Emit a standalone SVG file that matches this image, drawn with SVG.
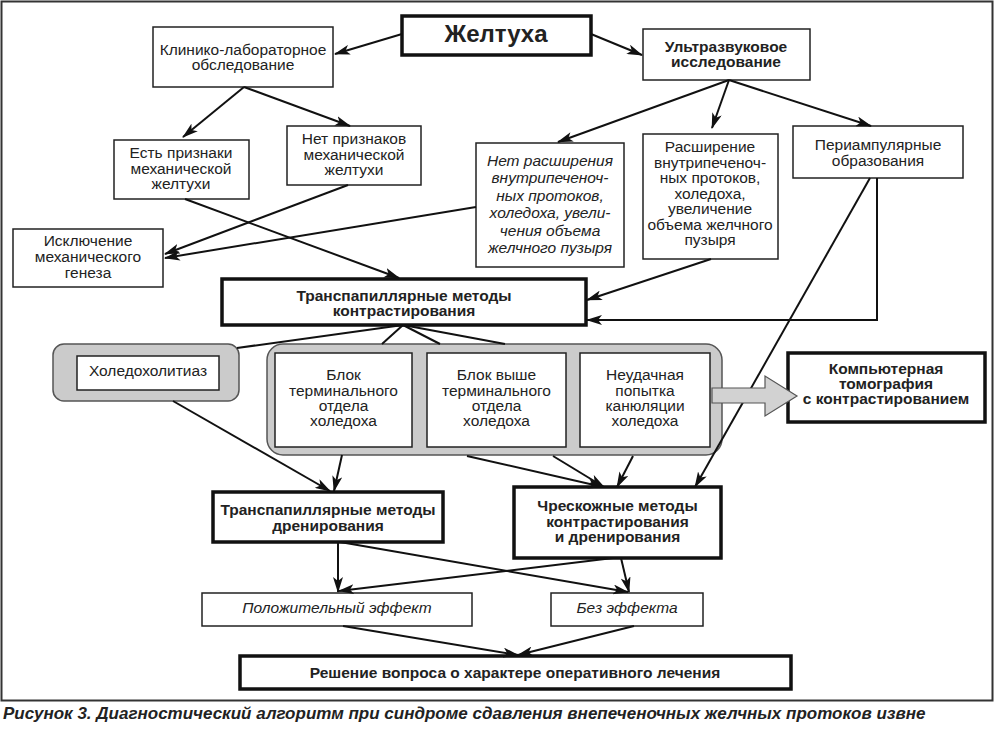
<svg xmlns="http://www.w3.org/2000/svg" width="1000" height="729" viewBox="0 0 1000 729">
<defs>
<marker id="ah" viewBox="0 0 16 10" refX="15" refY="5" markerWidth="16" markerHeight="10" markerUnits="userSpaceOnUse" orient="auto">
<path d="M0,0 L16,5 L0,10 L4,5 z" fill="#111"/>
</marker>
<style>
.box{fill:#fff;stroke:#222;stroke-width:1.5}
.thick{fill:#fff;stroke:#111;stroke-width:3.5}
.grp{fill:#cbcbcb;stroke:#555;stroke-width:1.5}
.t{font-family:"Liberation Sans",Arial,sans-serif;font-size:15.5px;fill:#222;text-anchor:middle}
.b{font-weight:bold;font-size:15.5px}
.i{font-style:italic}
.c line,.c path,.c polyline{stroke:#111;stroke-width:2;fill:none}
.a{marker-end:url(#ah)}
</style>
</defs>
<rect x="0" y="0" width="1000" height="729" fill="#fff"/>
<rect x="1.5" y="1.5" width="991" height="699" fill="none" stroke="#333" stroke-width="2"/>

<g id="n-zheltukha"><rect class="thick" x="402" y="16" width="189" height="39" stroke-width="4.5"/><text class="t b" x="496" y="42" style="font-size:24px">Желтуха</text></g>
<g id="n-klin"><rect class="box" x="153" y="27" width="180" height="60"/><text class="t" x="243" y="55">Клинико-лабораторное</text><text class="t" x="243" y="70">обследование</text></g>
<g id="n-uzi"><rect class="box" x="643" y="29" width="167" height="51"/><text class="t b" x="726" y="52">Ультразвуковое</text><text class="t b" x="726" y="67">исследование</text></g>
<g id="n-est"><rect class="box" x="114" y="140" width="135" height="59"/><text class="t" x="181" y="158">Есть признаки</text><text class="t" x="181" y="174">механической</text><text class="t" x="181" y="189">желтухи</text></g>
<g id="n-net"><rect class="box" x="287" y="126" width="134" height="59"/><text class="t" x="354" y="144">Нет признаков</text><text class="t" x="354" y="160">механической</text><text class="t" x="354" y="175">желтухи</text></g>
<g id="n-iskl"><rect class="box" x="13" y="229" width="150" height="58"/><text class="t" x="88" y="246">Исключение</text><text class="t" x="88" y="262">механического</text><text class="t" x="88" y="278">генеза</text></g>
<g id="n-netrassh"><rect class="box" x="476" y="143" width="148" height="124"/>
<text class="t i" x="550" y="166">Нет расширения</text><text class="t i" x="550" y="183">внутрипеченоч-</text><text class="t i" x="550" y="201">ных протоков,</text><text class="t i" x="550" y="218">холедоха, увели-</text><text class="t i" x="550" y="236">чения объема</text><text class="t i" x="550" y="253">желчного пузыря</text></g>
<g id="n-rassh"><rect class="box" x="643" y="134" width="135" height="125"/>
<text class="t" x="710" y="152">Расширение</text><text class="t" x="710" y="168">внутрипеченоч-</text><text class="t" x="710" y="183">ных протоков,</text><text class="t" x="710" y="199">холедоха,</text><text class="t" x="710" y="214">увеличение</text><text class="t" x="710" y="230">объема желчного</text><text class="t" x="710" y="245">пузыря</text></g>
<g id="n-periamp"><rect class="box" x="793" y="126" width="170" height="52"/><text class="t" x="878" y="150">Периампулярные</text><text class="t" x="878" y="166">образования</text></g>
<g id="n-tpk"><rect class="thick" x="222" y="279" width="364" height="46"/><text class="t b" x="404" y="301">Транспапиллярные методы</text><text class="t b" x="404" y="316">контрастирования</text></g>
<g id="n-choledocholith"><rect class="grp" x="53" y="344" width="186" height="57" rx="11"/><rect class="box" x="77" y="356" width="142" height="34"/><text class="t" x="148" y="376">Холедохолитиаз</text></g>
<g id="n-group"><rect class="grp" x="267" y="344" width="455" height="111" rx="16"/>
<g id="n-blok1"><rect class="box" x="275" y="353" width="137" height="94"/><text class="t" x="343.5" y="380">Блок</text><text class="t" x="343.5" y="395.5">терминального</text><text class="t" x="343.5" y="411">отдела</text><text class="t" x="343.5" y="426">холедоха</text></g>
<g id="n-blok2"><rect class="box" x="427" y="353" width="139" height="94"/><text class="t" x="496.5" y="380">Блок выше</text><text class="t" x="496.5" y="395.5">терминального</text><text class="t" x="496.5" y="411">отдела</text><text class="t" x="496.5" y="426">холедоха</text></g>
<g id="n-neudach"><rect class="box" x="580" y="353" width="130" height="94"/><text class="t" x="645" y="380">Неудачная</text><text class="t" x="645" y="395.5">попытка</text><text class="t" x="645" y="411">канюляции</text><text class="t" x="645" y="426">холедоха</text></g>
</g>
<g id="n-kt"><rect class="thick" x="788" y="353" width="197" height="69" stroke-width="3"/><text class="t b" x="886" y="374">Компьютерная</text><text class="t b" x="886" y="389">томография</text><text class="t b" x="886" y="404">с контрастированием</text></g>
<g id="n-tpd"><rect class="thick" x="213" y="492" width="230" height="50"/><text class="t b" x="328" y="515">Транспапиллярные методы</text><text class="t b" x="328" y="531">дренирования</text></g>
<g id="n-chresk"><rect class="thick" x="514" y="487" width="207" height="71" stroke-width="3"/><text class="t b" x="617.5" y="511">Чрескожные методы</text><text class="t b" x="617.5" y="527">контрастирования</text><text class="t b" x="617.5" y="542">и дренирования</text></g>
<g id="n-polozh"><rect class="box" x="202" y="593" width="270" height="33" stroke-width="1"/><text class="t i" x="337" y="613">Положительный эффект</text></g>
<g id="n-bez"><rect class="box" x="551" y="593" width="152" height="33" stroke-width="1"/><text class="t i" x="627" y="613">Без эффекта</text></g>
<g id="n-reshenie"><rect class="thick" x="240" y="656" width="551" height="33" stroke-width="3"/><text class="t b" x="515" y="678">Решение вопроса о характере оперативного лечения</text></g>

<g id="connectors" class="c">
<line class="a" x1="402" y1="34" x2="335" y2="54"/>
<line class="a" x1="591" y1="34" x2="642" y2="55"/>
<line class="a" x1="244" y1="87" x2="183" y2="137"/>
<line class="a" x1="244" y1="87" x2="350" y2="126"/>
<line class="a" x1="729" y1="80" x2="558" y2="142"/>
<line class="a" x1="729" y1="80" x2="712" y2="128"/>
<line class="a" x1="729" y1="80" x2="871" y2="126"/>
<line class="a" x1="348" y1="185" x2="165" y2="254"/>
<line class="a" x1="476" y1="207" x2="165" y2="258"/>
<line class="a" x1="185" y1="199" x2="399" y2="278"/>
<line class="a" x1="711" y1="259" x2="587" y2="300"/>
<polyline class="a" points="877,178 877,320 587,320"/>
<line x1="403" y1="325" x2="237" y2="348"/>
<line x1="403" y1="325" x2="382" y2="344"/>
<line x1="403" y1="325" x2="440" y2="344"/>
<line x1="403" y1="325" x2="505" y2="344"/>
<line class="a" x1="173" y1="401" x2="330" y2="491"/>
<line class="a" x1="342" y1="455" x2="334" y2="491"/>
<line class="a" x1="467" y1="456" x2="603" y2="487"/>
<line class="a" x1="553" y1="456" x2="604" y2="487"/>
<line class="a" x1="633" y1="456" x2="617" y2="487"/>
<line class="a" x1="338" y1="542" x2="338" y2="592"/>
<line class="a" x1="340" y1="542" x2="628" y2="592"/>
<line class="a" x1="613" y1="558" x2="339" y2="591"/>
<line class="a" x1="621" y1="558" x2="629" y2="592"/>
<line class="a" x1="343" y1="626" x2="518" y2="655"/>
<line class="a" x1="634" y1="626" x2="518" y2="655"/>
<line class="a" x1="870" y1="178" x2="695" y2="487"/>
<polygon points="712,388 765,388 765,376 797,396 765,416 765,403 712,403" fill="#d2d2d2" stroke="#555" stroke-width="1.2"/>
</g>
<text x="3" y="719" style="font-family:'Liberation Sans',Arial,sans-serif;font-size:17px;font-weight:bold;font-style:italic;fill:#222">Рисунок 3. Диагностический алгоритм при синдроме сдавления внепеченочных желчных протоков извне</text>
</svg>
